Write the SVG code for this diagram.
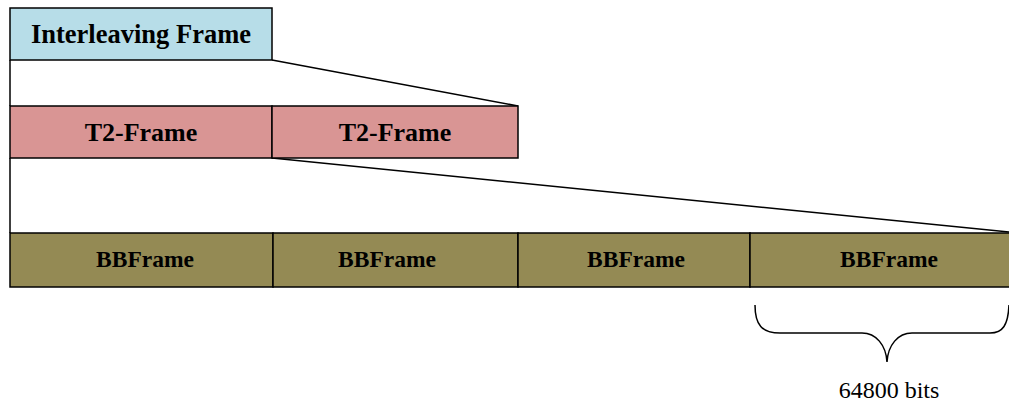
<svg xmlns="http://www.w3.org/2000/svg" width="1009" height="405" viewBox="0 0 1009 405">
<style>
.box{stroke:#000;stroke-width:1.5}
.lbl{font-family:"Liberation Serif",serif;font-weight:bold;text-anchor:middle;fill:#000}
.ln{stroke:#000;stroke-width:1.5;fill:none}
</style>
<rect width="1009" height="405" fill="#fff"/>
<g id="connectors">
<line class="ln" x1="272" y1="60" x2="518" y2="106"/>
<line class="ln" x1="10" y1="60" x2="10" y2="106"/>
<line class="ln" x1="272" y1="158" x2="1009" y2="232"/>
<line class="ln" x1="10" y1="158" x2="10" y2="233"/>
</g>
<g id="interleaving">
<rect class="box" x="10" y="8" width="262" height="52" fill="#b7dde8"/>
<text class="lbl" x="141" y="43" font-size="26.5">Interleaving Frame</text>
</g>
<g id="t2a">
<rect class="box" x="10" y="106" width="262" height="52" fill="#d99594"/>
<text class="lbl" x="141" y="141" font-size="26">T2-Frame</text>
</g>
<g id="t2b">
<rect class="box" x="272" y="106" width="246" height="52" fill="#d99594"/>
<text class="lbl" x="395" y="141" font-size="26">T2-Frame</text>
</g>
<g id="bb1">
<rect class="box" x="10" y="233" width="263" height="54" fill="#948a54"/>
<text class="lbl" x="145" y="267" font-size="23.5">BBFrame</text>
</g>
<g id="bb2">
<rect class="box" x="273" y="233" width="245" height="54" fill="#948a54"/>
<text class="lbl" x="387" y="267" font-size="23.5">BBFrame</text>
</g>
<g id="bb3">
<rect class="box" x="518" y="233" width="232" height="54" fill="#948a54"/>
<text class="lbl" x="636" y="267" font-size="23.5">BBFrame</text>
</g>
<g id="bb4">
<rect class="box" x="750" y="233" width="262" height="54" fill="#948a54"/>
<text class="lbl" x="889" y="267" font-size="23.5">BBFrame</text>
</g>
<g id="brace">
<path class="ln" d="M755,305 C755,325 762,333 780,333 L862,333 C876,333 886,345 887,362 C888,345 898,333 912,333 L990,333 C1003,333 1008,325 1009,305"/>
<text x="889" y="398" font-size="24" font-family="'Liberation Serif',serif" text-anchor="middle">64800 bits</text>
</g>
</svg>
